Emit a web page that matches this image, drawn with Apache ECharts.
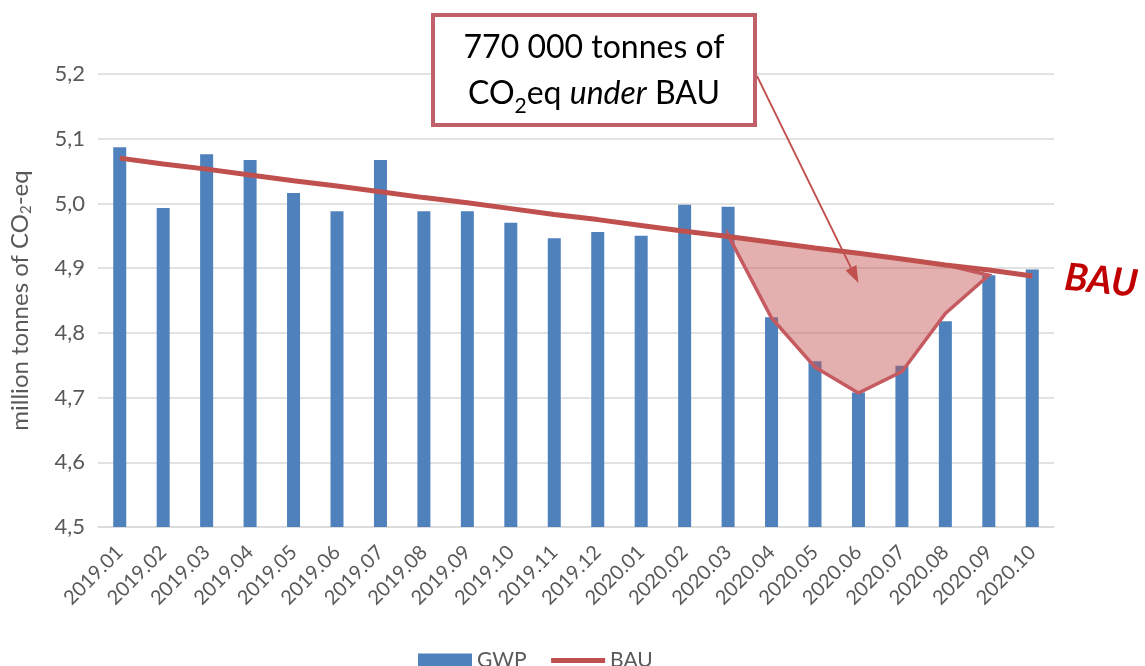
<!DOCTYPE html>
<html>
<head>
<meta charset="utf-8">
<script src="https://cdn.jsdelivr.net/npm/echarts@6/dist/echarts.min.js"></script>
<style>
  html, body { margin: 0; padding: 0; background: #fff; }
  #chart { width: 1145px; height: 666px; }
</style>
</head>
<body>
<div id="chart"></div>
<script>
const months = ['2019.01', '2019.02', '2019.03', '2019.04', '2019.05', '2019.06', '2019.07', '2019.08',
  '2019.09', '2019.10', '2019.11', '2019.12', '2020.01', '2020.02', '2020.03', '2020.04', '2020.05',
  '2020.06', '2020.07', '2020.08', '2020.09', '2020.10']

const gwp = [5.087, 4.993, 5.076, 5.067, 5.016, 4.988, 5.067, 4.988, 4.988, 4.970, 4.946, 4.956,
  4.950, 4.998, 4.995, 4.824, 4.756, 4.708, 4.749, 4.818, 4.889, 4.898]

const bau = [5.070, 5.061, 5.053, 5.044, 5.035, 5.027, 5.018, 5.009, 5.001, 4.992, 4.983, 4.975,
  4.966, 4.957, 4.949, 4.940, 4.931, 4.923, 4.914, 4.905, 4.897, 4.888]

// lower edge of the shaded gap (2020.03 - 2020.09)
const underBau = [null, null, null, null, null, null, null, null, null, null, null, null,
  null, null, 4.951, 4.823, 4.747, 4.707, 4.740, 4.830, 4.889, null]

const yTicks = { min: 4.5, max: 5.2, step: 0.1 }

const font = 'Lato, "Open Sans", sans-serif'
const grey = '#595959'
const bauRed = '#c0504d'

const chart = echarts.init(document.getElementById('chart'))

const shadeFrom = underBau.findIndex(v => v !== null)
const shadeTo = underBau.length - 1 - [...underBau].reverse().findIndex(v => v !== null)

const option = {
  animation: false,
  textStyle: { fontFamily: font },
  grid: { left: 98, right: 91, top: 74, bottom: 139 },
  legend: {
    left: 418,
    top: 650,
    padding: 0,
    itemWidth: 54,
    itemHeight: 14,
    itemGap: 22,
    textStyle: { fontSize: 21, color: grey, fontFamily: font },
    data: [
      { name: 'GWP', icon: 'rect' },
      { name: 'BAU', itemStyle: { opacity: 0 }, lineStyle: { width: 5, color: bauRed } }
    ]
  },
  xAxis: {
    type: 'category',
    data: months,
    axisTick: { show: false },
    axisLine: { lineStyle: { color: '#d9d9d9', width: 1.5 } },
    axisLabel: { rotate: 45, fontSize: 20, color: grey, margin: 22, interval: 0 }
  },
  yAxis: {
    type: 'value',
    min: yTicks.min,
    max: yTicks.max,
    interval: yTicks.step,
    name: '{t|million tonnes of CO}{s|2}{t|-eq}',
    nameLocation: 'middle',
    nameGap: 64,
    nameTextStyle: {
      rich: {
        t: { fontSize: 24, color: grey, fontFamily: font, lineHeight: 28 },
        s: { fontSize: 15, color: grey, fontFamily: font, lineHeight: 20, verticalAlign: 'bottom' }
      }
    },
    axisLine: { show: false },
    axisTick: { show: false },
    splitLine: { lineStyle: { color: '#d9d9d9', width: 1.5 } },
    axisLabel: {
      fontSize: 22,
      color: grey,
      margin: 13,
      formatter: v => v.toFixed(1).replace('.', ',')
    }
  },
  series: [
    {
      name: 'GWP',
      type: 'bar',
      data: gwp,
      barWidth: 13,
      itemStyle: { color: '#4f81bd' },
      z: 2
    },
    {
      name: 'gap',
      type: 'custom',
      data: [[shadeFrom, underBau[shadeFrom]]],
      renderItem: (params, api) => {
        const pts = []
        for (let i = shadeFrom; i < shadeTo; i++) pts.push(api.coord([i, bau[i]]))
        for (let i = shadeTo; i >= shadeFrom; i--) pts.push(api.coord([i, underBau[i]]))
        return {
          type: 'polygon',
          shape: { points: pts },
          style: { fill: 'rgba(192,80,77,0.45)', stroke: '#c55a60', lineWidth: 3.5 }
        }
      },
      z: 3
    },
    {
      name: 'BAU',
      type: 'line',
      data: bau,
      symbol: 'none',
      lineStyle: { color: bauRed, width: 5 },
      itemStyle: { color: bauRed },
      z: 4
    }
  ]
}

chart.setOption(option)

// annotation: box + arrow pointing into the shaded gap
const tip = chart.convertToPixel({ gridIndex: 0 }, [17, 4.877])
const start = [757, 76]
const dx = tip[0] - start[0]
const dy = tip[1] - start[1]
const len = Math.sqrt(dx * dx + dy * dy)
const ux = dx / len
const uy = dy / len
const headLen = 17
const headHalf = 6
const base = [tip[0] - ux * headLen, tip[1] - uy * headLen]

chart.setOption({
  graphic: [
    {
      type: 'line',
      shape: { x1: start[0], y1: start[1], x2: base[0], y2: base[1] },
      style: { stroke: bauRed, lineWidth: 1.8 },
      z: 20
    },
    {
      type: 'polygon',
      shape: {
        points: [
          tip,
          [base[0] - uy * headHalf, base[1] + ux * headHalf],
          [base[0] + uy * headHalf, base[1] - ux * headHalf]
        ]
      },
      style: { fill: bauRed },
      z: 20
    },
    {
      type: 'rect',
      shape: { x: 433, y: 15, width: 322, height: 110 },
      style: { fill: '#fff', stroke: '#c0606a', lineWidth: 4 },
      z: 21
    },
    {
      type: 'text',
      x: 594,
      y: 71,
      style: {
        text: '{a|770 000 tonnes of}\n{a|CO}{s|2}{a|eq }{i|under}{a| BAU}',
        align: 'center',
        verticalAlign: 'middle',
        rich: {
          a: { fontSize: 32, fontFamily: font, fill: '#000', lineHeight: 46 },
          i: { fontSize: 32, fontFamily: font, fill: '#000', fontStyle: 'italic', lineHeight: 46 },
          s: { fontSize: 21, fontFamily: font, fill: '#000', lineHeight: 30, verticalAlign: 'bottom' }
        }
      },
      z: 22
    },
    {
      type: 'text',
      x: 1101,
      y: 281,
      rotation: -0.1,
      style: {
        text: 'BAU',
        align: 'center',
        verticalAlign: 'middle',
        fontSize: 38,
        fontWeight: 'bold',
        fontStyle: 'italic',
        fontFamily: font,
        fill: '#c00000'
      },
      z: 22
    }
  ]
})
</script>
</body>
</html>
